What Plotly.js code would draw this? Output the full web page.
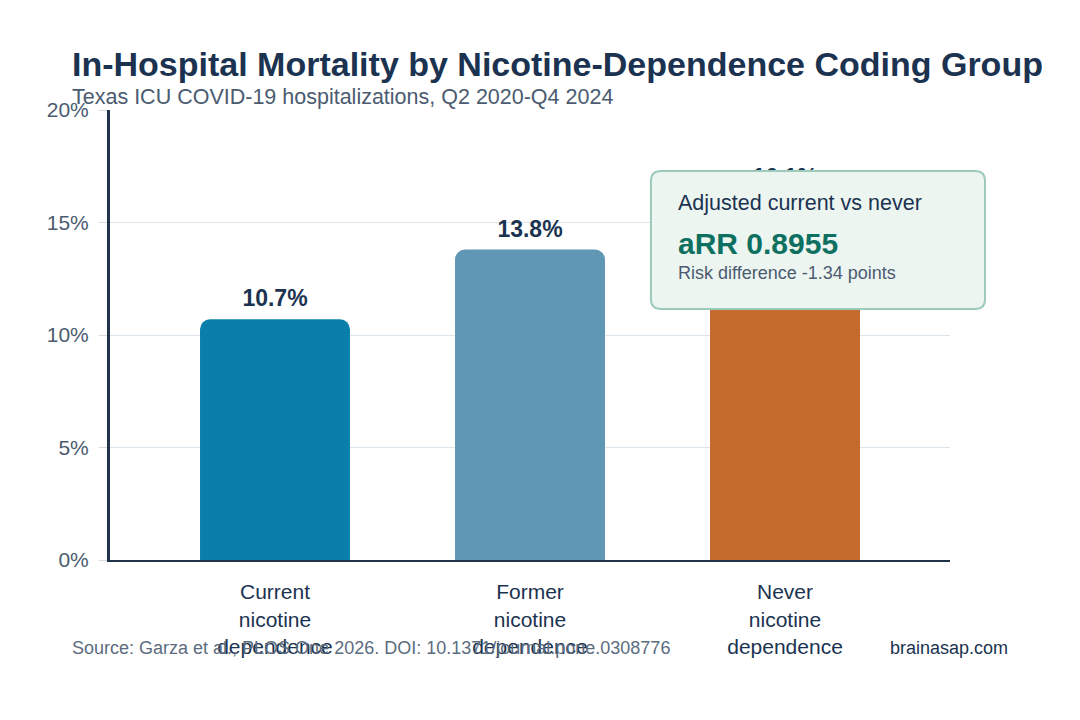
<!DOCTYPE html>
<html>
<head>
<meta charset="utf-8">
<script src="https://cdn.plot.ly/plotly-3.0.1.min.js"></script>
<style>html,body{margin:0;padding:0;background:#fff;}#chart{width:1080px;height:720px;}</style>
</head>
<body>
<div id="chart"></div>
<script>
const categories = ["Current<br>nicotine<br>dependence", "Former<br>nicotine<br>dependence", "Never<br>nicotine<br>dependence"];
const mortality = [10.7, 13.8, 16.1];
const barColors = ["#0b7fab", "#5f97b5", "#c46a2c"];
const yTicks = [0, 5, 10, 15, 20];

const FONT = "Liberation Sans, Arial, sans-serif";
const DARK = "#1b3350";
const GREY = "#4b5b70";

const bars = {
  type: "bar",
  x: categories,
  y: mortality,
  marker: { color: barColors, cornerradius: 10 },
  hoverinfo: "skip",
  showlegend: false
};
const labels = {
  type: "scatter",
  mode: "markers+text",
  x: categories,
  y: mortality,
  text: mortality.map(v => v.toFixed(1) + "%"),
  textposition: "top center",
  textfont: { family: FONT, size: 23, color: DARK, weight: "bold" },
  marker: { size: 10, color: "rgba(0,0,0,0)", line: { width: 0 } },
  cliponaxis: false,
  hoverinfo: "skip",
  showlegend: false
};

// rounded callout box in paper coords
const bx0 = 0.644, bx1 = 1.0417, by0 = 0.5578, by1 = 0.8644, rx = 0.0119, ry = 0.0222;
const boxPath = `M ${bx0+rx},${by0} L ${bx1-rx},${by0} Q ${bx1},${by0} ${bx1},${by0+ry} L ${bx1},${by1-ry} Q ${bx1},${by1} ${bx1-rx},${by1} L ${bx0+rx},${by1} Q ${bx0},${by1} ${bx0},${by1-ry} L ${bx0},${by0+ry} Q ${bx0},${by0} ${bx0+rx},${by0} Z`;

const layout = {
  width: 1080, height: 720,
  paper_bgcolor: "#ffffff", plot_bgcolor: "#ffffff",
  margin: { l: 110, r: 130, t: 110, b: 160 },
  font: { family: FONT, color: DARK },
  bargap: 0.412,
  xaxis: {
    type: "category",
    range: [-0.647, 2.647],
    showline: true, linecolor: "#22344a", linewidth: 2,
    ticks: "outside", ticklen: 12, tickcolor: "rgba(0,0,0,0)",
    tickfont: { family: FONT, size: 21, color: DARK },
    showgrid: false, fixedrange: true
  },
  yaxis: {
    range: [0, 20],
    tickvals: yTicks,
    ticktext: yTicks.map(v => v + "%"),
    showline: true, linecolor: "#22344a", linewidth: 3,
    ticks: "outside", ticklen: 8, tickcolor: "#d3dde7",
    ticklabelstandoff: 6,
    tickfont: { family: FONT, size: 21, color: GREY },
    showgrid: true, gridcolor: "#dde5ec", gridwidth: 1,
    zeroline: true, zerolinecolor: "#22344a", zerolinewidth: 1,
    fixedrange: true
  },
  shapes: [{
    type: "path", xref: "paper", yref: "paper", path: boxPath,
    fillcolor: "#edf5f1", line: { color: "#9ccbb9", width: 2 }, layer: "above"
  }],
  annotations: [
    { xref: "paper", yref: "paper", x: -0.0476, y: 1.102, xanchor: "left", yanchor: "middle",
      text: "<b>In-Hospital Mortality by Nicotine-Dependence Coding Group</b>", showarrow: false,
      font: { family: FONT, size: 34, color: DARK } },
    { xref: "paper", yref: "paper", x: -0.0476, y: 1.029, xanchor: "left", yanchor: "middle",
      text: "Texas ICU COVID-19 hospitalizations, Q2 2020-Q4 2024", showarrow: false,
      font: { family: FONT, size: 21.5, color: GREY } },
    { xref: "paper", yref: "paper", x: 0.6738, y: 0.7933, xanchor: "left", yanchor: "middle",
      text: "Adjusted current vs never", showarrow: false,
      font: { family: FONT, size: 21.5, color: DARK } },
    { xref: "paper", yref: "paper", x: 0.6738, y: 0.7044, xanchor: "left", yanchor: "middle",
      text: "<b>aRR 0.8955</b>", showarrow: false,
      font: { family: FONT, size: 30, color: "#0e7060" } },
    { xref: "paper", yref: "paper", x: 0.6738, y: 0.6378, xanchor: "left", yanchor: "middle",
      text: "Risk difference -1.34 points", showarrow: false,
      font: { family: FONT, size: 18, color: GREY } },
    { xref: "paper", yref: "paper", x: -0.0476, y: -0.1956, xanchor: "left", yanchor: "middle",
      text: "Source: Garza et al., PLOS One 2026. DOI: 10.1371/journal.pone.0308776", showarrow: false,
      font: { family: FONT, size: 18, color: "#5b6c80" } },
    { xref: "paper", yref: "paper", x: 1.0714, y: -0.1956, xanchor: "right", yanchor: "middle",
      text: "brainasap.com", showarrow: false,
      font: { family: FONT, size: 18, color: DARK } }
  ]
};

Plotly.newPlot("chart", [bars, labels], layout, { displayModeBar: false, staticPlot: true });
</script>
</body>
</html>
